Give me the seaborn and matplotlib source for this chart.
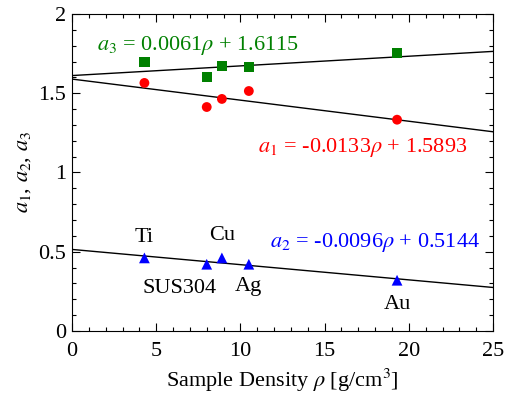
import numpy as np
import pandas as pd
import matplotlib
matplotlib.use("Agg")
import matplotlib.pyplot as plt
import seaborn as sns
from matplotlib.ticker import MultipleLocator

# Data
samples = ["Ti", "SUS304", "Cu", "Ag", "Au"]
density = [4.3, 8.0, 8.9, 10.5, 19.3]
a1 = [1.565, 1.413, 1.464, 1.514, 1.333]
a2 = [0.461, 0.421, 0.461, 0.421, 0.320]
a3 = [1.695, 1.604, 1.674, 1.666, 1.754]

# linear fits (slope, intercept) from the equations on the chart
fit_a1 = (-0.0133, 1.5893)
fit_a2 = (-0.0096, 0.5144)
fit_a3 = (0.0061, 1.6115)

sns.set_theme(style="ticks")
plt.rcParams['font.family'] = ['Liberation Serif', 'DejaVu Serif']
plt.rcParams['mathtext.fontset'] = 'stix'

df = pd.DataFrame({'rho': density, 'a1': a1, 'a2': a2, 'a3': a3})

fig = plt.figure(figsize=(5.12, 3.94), dpi=100)
ax = fig.add_axes([0.1406, 0.160, 0.8224, 0.8045])

xfit = np.array([0, 25])
for (m, b) in [fit_a1, fit_a2, fit_a3]:
    sns.lineplot(x=xfit, y=m * xfit + b, color='black', lw=1.0, ax=ax)

sns.scatterplot(data=df, x='rho', y='a3', marker='s', color='#008000', s=55,
                edgecolor='none', ax=ax, zorder=3)
sns.scatterplot(data=df, x='rho', y='a1', marker='o', color='#ff0000', s=50,
                edgecolor='none', ax=ax, zorder=3)
sns.scatterplot(data=df, x='rho', y='a2', marker='^', color='#0000ff', s=60,
                edgecolor='none', ax=ax, zorder=3)

fs = 16
ax.text(1.5, 1.80, r'$a_3$ = 0.0061$\rho$ + 1.6115', color='#008000',
        fontsize=fs, ha='left', va='center')
ax.text(23.45, 1.16, r'$a_1$ = -0.0133$\rho$ + 1.5893', color='#ff0000',
        fontsize=fs, ha='right', va='center')
ax.text(24.2, 0.56, r'$a_2$ = -0.0096$\rho$ + 0.5144', color='#0000ff',
        fontsize=fs, ha='right', va='center')

label_pos = {"Ti": (4.3, 0.59), "SUS304": (6.36, 0.27), "Cu": (8.9, 0.605),
             "Ag": (10.47, 0.28), "Au": (19.35, 0.165)}
for name in samples:
    x, y = label_pos[name]
    ax.text(x, y, name, fontsize=fs, ha='center', va='center', color='black')

ax.set_xlim(0, 25)
ax.set_ylim(0, 2)
ax.xaxis.set_major_locator(MultipleLocator(5))
ax.xaxis.set_minor_locator(MultipleLocator(1))
ax.yaxis.set_major_locator(MultipleLocator(0.5))
ax.yaxis.set_minor_locator(MultipleLocator(0.1))
ax.yaxis.set_major_formatter(matplotlib.ticker.FuncFormatter(lambda v, p: f"{v:g}"))
ax.tick_params(which='both', direction='in', top=True, right=True,
               labelsize=fs, colors='black', pad=4)
ax.tick_params(axis='x', which='both', pad=8)
ax.tick_params(which='major', length=6, width=0.8)
ax.tick_params(which='minor', length=3, width=0.8)
for sp in ax.spines.values():
    sp.set_color('black')
    sp.set_linewidth(0.8)

ax.set_xlabel(r'Sample Density $\rho$ [g/cm$^3$]', fontsize=fs, color='black', labelpad=4)
ax.set_ylabel(r'$a_1$, $a_2$, $a_3$', fontsize=fs, color='black', labelpad=4)

fig.savefig('out.png', dpi=100)
